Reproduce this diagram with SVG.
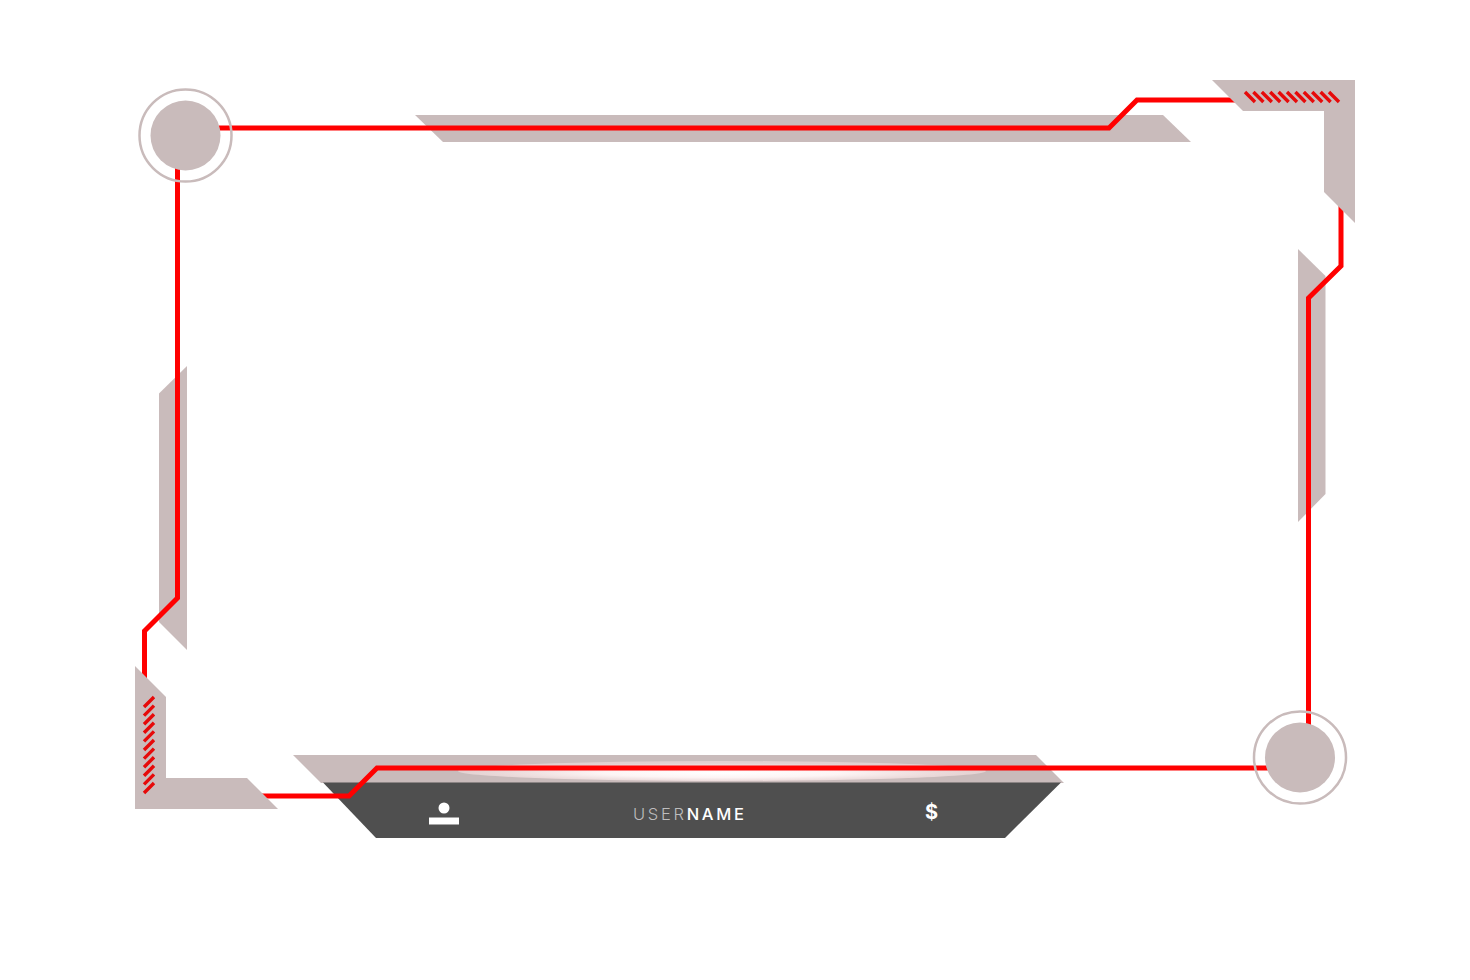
<svg xmlns="http://www.w3.org/2000/svg" width="1470" height="980" viewBox="0 0 1470 980">
<style>
.g{fill:#c9bbbb}
.r{fill:none;stroke:#ff0000;stroke-width:5;stroke-miterlimit:10}
.ring{fill:none;stroke:#c9bbbb;stroke-width:2.500}
.d{fill:none;stroke:#e60a0a;stroke-width:3.400}
.w{fill:#fff}
text{font-family:"Inter","Noto Sans",sans-serif}
</style>
<defs>
<radialGradient id="glow" cx="0.5" cy="0.5" r="0.5" gradientTransform="translate(0 0.1)">
<stop offset="0" stop-color="#fff"/>
<stop offset="0.45" stop-color="#fdf4f4"/>
<stop offset="0.8" stop-color="#ecdbdb"/>
<stop offset="1" stop-color="#e2d0d0"/>
</radialGradient>
</defs>
<rect width="1470" height="980" fill="#fff"/>
<g id="bar-top"><polygon class="g" points="415,115 1163,115 1191,142 443,142"/></g>
<g id="bar-right"><polygon class="g" points="1298,249 1325.500,276 1325.500,494 1298,522"/></g>
<g id="bar-left"><polygon class="g" points="187,366 159,393.500 159,622 187,650"/></g>
<g id="bar-bottom">
<polygon class="g" points="293,755 1036,755 1064,783 321,783"/>
<ellipse cx="722" cy="771" rx="264" ry="10" fill="url(#glow)"/>
</g>
<g id="panel">
<polygon fill="#4f4f4f" points="323,782.500 1061,782.500 1005,838 376,838"/>
<path class="w" d="M429,817.500h30v7h-30z"/>
<circle class="w" cx="444" cy="808" r="5.500"/>
<text x="633" y="820" font-size="16.500" letter-spacing="2.700" fill="#bdbdbd" font-weight="300">USER<tspan fill="#fff" font-weight="500">NAME</tspan></text>
<text x="931.500" y="819" font-size="20" font-weight="700" fill="#fff" text-anchor="middle">$</text>
</g>
<g id="connectors">
<polyline class="r" points="219,128 1109,128 1137,100 1235,100"/>
<polyline class="r" points="177.500,168 177.500,598 144.500,631 144.500,680"/>
<polyline class="r" points="262,796 349,796 377,768 1268,768"/>
<polyline class="r" points="1308.500,728 1308.500,298 1341,266 1341,205"/>
</g>
<g id="corner-tr">
<polygon class="g" points="1212,80 1355,80 1355,223 1324,192 1324,111 1243,111"/>
<path class="d" d="M1245,92l10,10M1253.400,92l10,10M1261.800,92l10,10M1270.200,92l10,10M1278.600,92l10,10M1287,92l10,10M1295.400,92l10,10M1303.800,92l10,10M1312.200,92l10,10M1320.600,92l10,10M1329,92l10,10"/>
</g>
<g id="corner-bl">
<polygon class="g" points="135,666 166,697 166,778 247,778 278,809 135,809"/>
<path class="d" d="M144,707l10,-10M144,715.600l10,-10M144,724.200l10,-10M144,732.800l10,-10M144,741.400l10,-10M144,750l10,-10M144,758.600l10,-10M144,767.200l10,-10M144,775.800l10,-10M144,784.400l10,-10M144,793l10,-10"/>
</g>
<g id="circle-tl">
<circle class="ring" cx="185.500" cy="135.500" r="46"/>
<circle class="g" cx="185.500" cy="135.500" r="35"/>
</g>
<g id="circle-br">
<circle class="ring" cx="1300" cy="757.500" r="46"/>
<circle class="g" cx="1300" cy="757.500" r="35"/>
</g>
</svg>
